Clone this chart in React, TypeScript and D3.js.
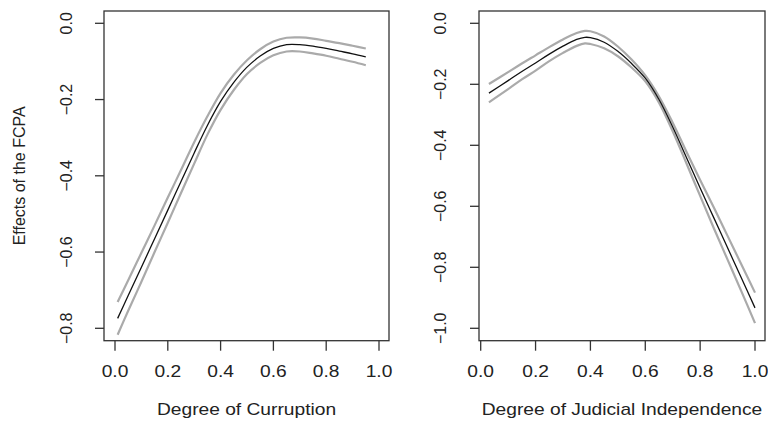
import React from "react";
import * as d3 from "d3";

// Left panel: Degree of Corruption
const corrX = [0.01, 0.05, 0.1, 0.15, 0.2, 0.25, 0.3, 0.35, 0.4, 0.45, 0.5, 0.55, 0.6, 0.65, 0.7, 0.75, 0.8, 0.85, 0.9, 0.95];
const corrFit = [-0.774, -0.714, -0.640, -0.565, -0.490, -0.415, -0.340, -0.268, -0.205, -0.155, -0.115, -0.086, -0.066, -0.056, -0.056, -0.060, -0.066, -0.073, -0.080, -0.088];
const corrUpper = [-0.731, -0.674, -0.602, -0.530, -0.457, -0.385, -0.312, -0.244, -0.183, -0.135, -0.097, -0.068, -0.048, -0.038, -0.037, -0.040, -0.046, -0.052, -0.059, -0.066];
const corrLower = [-0.817, -0.754, -0.678, -0.600, -0.523, -0.445, -0.368, -0.292, -0.227, -0.175, -0.133, -0.104, -0.084, -0.074, -0.074, -0.079, -0.085, -0.093, -0.101, -0.110];

// Right panel: Degree of Judicial Independence
const judX = [0.03, 0.1, 0.15, 0.2, 0.25, 0.3, 0.35, 0.38, 0.4, 0.45, 0.5, 0.55, 0.6, 0.65, 0.7, 0.75, 0.8, 0.85, 0.9, 0.95, 1.0];
const judFit = [-0.229, -0.188, -0.158, -0.130, -0.101, -0.075, -0.053, -0.046, -0.047, -0.062, -0.092, -0.132, -0.180, -0.250, -0.340, -0.440, -0.540, -0.638, -0.736, -0.834, -0.933];
const judUpper = [-0.199, -0.160, -0.132, -0.105, -0.078, -0.053, -0.032, -0.025, -0.026, -0.043, -0.076, -0.119, -0.171, -0.240, -0.326, -0.421, -0.514, -0.604, -0.697, -0.790, -0.883];
const judLower = [-0.259, -0.216, -0.184, -0.155, -0.124, -0.097, -0.074, -0.066, -0.068, -0.082, -0.108, -0.145, -0.190, -0.260, -0.354, -0.459, -0.566, -0.672, -0.775, -0.878, -0.983];

const xTicks = [0, 0.2, 0.4, 0.6, 0.8, 1.0];
const leftYTicks = [0, -0.2, -0.4, -0.6, -0.8];
const rightYTicks = [0, -0.2, -0.4, -0.6, -0.8, -1.0];

const yTitle = "Effects of the FCPA";
const leftXTitle = "Degree of Curruption";
const rightXTitle = "Degree of Judicial Independence";

const FONT = "'Liberation Sans', Arial, Helvetica, sans-serif";
const TXT = "#222";

type PanelProps = {
  box: [number, number, number, number]; // left, top, right, bottom
  xRange: [number, number]; // pixel for x=0 and x=1
  yZeroPx: number;
  yRefVal: number;
  yRefPx: number;
  xs: number[];
  fit: number[];
  upper: number[];
  lower: number[];
  yTicks: number[];
  xTitle: string;
  yLabelX: number;
  yTitleText?: string;
};

function Panel(p: PanelProps) {
  const [L, T, R, B] = p.box;
  const x = d3.scaleLinear().domain([0, 1]).range(p.xRange);
  const y = d3.scaleLinear().domain([0, p.yRefVal]).range([p.yZeroPx, p.yRefPx]);
  const line = (vals: number[]) =>
    d3
      .line<number>()
      .x((_, i) => x(p.xs[i]))
      .y((v) => y(v))
      .curve(d3.curveCatmullRom.alpha(0.5))(vals) || "";
  const fmt = d3.format(".1f");
  const cx = (L + R) / 2;
  const cy = (T + B) / 2;
  return (
    <g>
      <path d={line(p.upper)} fill="none" stroke="#aaaaaa" strokeWidth={2.2} />
      <path d={line(p.lower)} fill="none" stroke="#aaaaaa" strokeWidth={2.2} />
      <path d={line(p.fit)} fill="none" stroke="#111" strokeWidth={1.3} />
      <rect x={L} y={T} width={R - L} height={B - T} fill="none" stroke="#333" strokeWidth={1.3} />
      {xTicks.map((t) => (
        <g key={"xt" + t}>
          <line x1={x(t)} x2={x(t)} y1={B} y2={B + 10} stroke="#333" strokeWidth={1.3} />
          <text
            transform={`translate(${x(t)},376.5) scale(1.2,1)`}
            textAnchor="middle"
            fontFamily={FONT}
            fontSize={16}
            fill={TXT}
          >
            {fmt(t)}
          </text>
        </g>
      ))}
      {p.yTicks.map((t) => (
        <g key={"yt" + t}>
          <line x1={L - 9} x2={L} y1={y(t)} y2={y(t)} stroke="#333" strokeWidth={1.3} />
          <text
            transform={`translate(${p.yLabelX},${y(t)}) rotate(-90)`}
            textAnchor="middle"
            fontFamily={FONT}
            fontSize={16}
            fill={TXT}
          >
            {fmt(t)}
          </text>
        </g>
      ))}
      <text
        transform={`translate(${cx},415) scale(1.2,1)`}
        textAnchor="middle"
        fontFamily={FONT}
        fontSize={16}
        fill={TXT}
      >
        {p.xTitle}
      </text>
      {p.yTitleText ? (
        <text
          transform={`translate(25,${cy}) rotate(-90)`}
          textAnchor="middle"
          fontFamily={FONT}
          fontSize={16}
          fill={TXT}
        >
          {p.yTitleText}
        </text>
      ) : null}
    </g>
  );
}

export default function App() {
  return (
    <svg
      width={768}
      height={421}
      style={{ position: "absolute", left: 0, top: 0, background: "#fff" }}
    >
      <rect x={0} y={0} width={768} height={421} fill="#fff" />
      <Panel
        box={[104, 11, 389, 340.7]}
        xRange={[115, 379]}
        yZeroPx={23.3}
        yRefVal={-0.8}
        yRefPx={328.3}
        xs={corrX}
        fit={corrFit}
        upper={corrUpper}
        lower={corrLower}
        yTicks={leftYTicks}
        xTitle={leftXTitle}
        yLabelX={72}
        yTitleText={yTitle}
      />
      <Panel
        box={[479, 11, 765, 340.7]}
        xRange={[480.7, 755]}
        yZeroPx={23.3}
        yRefVal={-1.0}
        yRefPx={328.3}
        xs={judX}
        fit={judFit}
        upper={judUpper}
        lower={judLower}
        yTicks={rightYTicks}
        xTitle={rightXTitle}
        yLabelX={446}
      />
    </svg>
  );
}
